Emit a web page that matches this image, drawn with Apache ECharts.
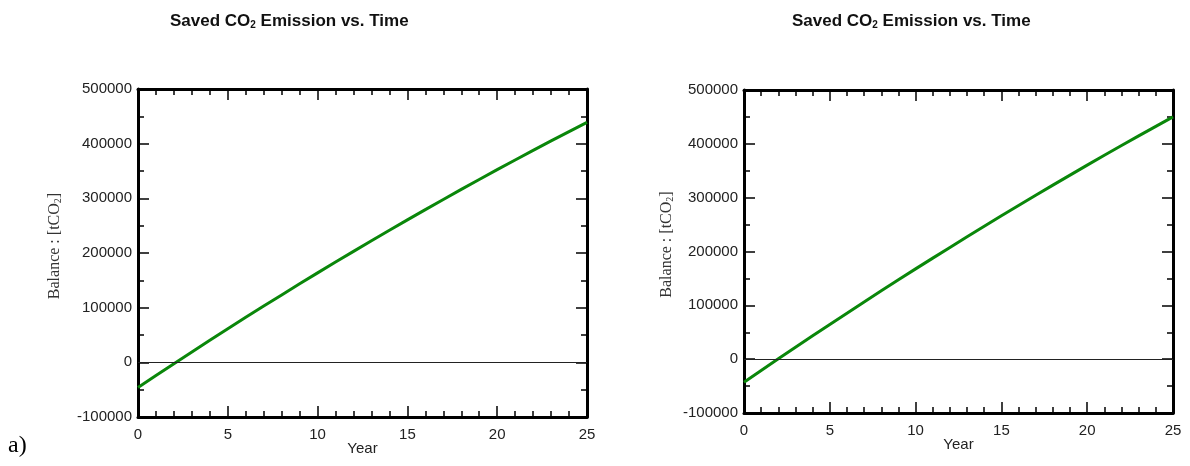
<!DOCTYPE html>
<html>
<head>
<meta charset="utf-8">
<script src="https://cdn.jsdelivr.net/npm/echarts@6/dist/echarts.min.js"></script>
<style>
  html, body { margin: 0; padding: 0; background: #fff; }
  #chart { width: 1190px; height: 466px; }
</style>
</head>
<body>
<div id="chart"></div>
<script>
// data
const years = [0, 1, 2, 3, 4, 5, 6, 7, 8, 9, 10, 11, 12, 13, 14, 15, 16, 17, 18, 19, 20, 21, 22, 23, 24, 25]
const balanceA = [-46000, -24100, -2400, 19100, 40300, 61400, 82300, 102900, 123300, 143600, 163600, 183400, 203000,
  222400, 241600, 260600, 279400, 297900, 316300, 334500, 352400, 370100, 387700, 405000, 422100, 439000]
const balanceB = [-43000, -21100, 600, 22100, 43400, 64600, 85500, 106300, 127000, 147400, 167700, 187700, 207600,
  227400, 246900, 266300, 285400, 304500, 323300, 341900, 360400, 378700, 396800, 414700, 432500, 450100]
const yearTicks = [0, 25, 5]          // min, max, step
const balanceTicks = [-100000, 500000, 100000]

const chart = echarts.init(document.getElementById('chart'))

const sans = 'Liberation Sans, Arial, sans-serif'
const serif = 'Liberation Serif, Times New Roman, serif'

function pairs (vals) {
  return years.map((y, i) => [y, vals[i]])
}

function xAx (gridIndex, pos) {
  return {
    type: 'value',
    gridIndex: gridIndex,
    position: pos,
    min: yearTicks[0],
    max: yearTicks[1],
    interval: yearTicks[2],
    name: pos === 'bottom' ? 'Year' : '',
    nameLocation: 'middle',
    nameGap: 24,
    nameMoveOverlap: false,
    nameTextStyle: { color: '#222', fontFamily: sans, fontSize: 15 },
    axisLine: { show: true, onZero: false, lineStyle: { color: '#000', width: 3 } },
    axisTick: { show: true, inside: true, length: 11, lineStyle: { color: '#000', width: 1.5 } },
    minorTick: { show: true, splitNumber: 5, length: 6, lineStyle: { color: '#000', width: 1.5 } },
    axisLabel: { show: pos === 'bottom', margin: 10, color: '#222', fontFamily: sans, fontSize: 15 },
    splitLine: { show: false }
  }
}

function yAx (gridIndex, pos) {
  return {
    type: 'value',
    gridIndex: gridIndex,
    position: pos,
    min: balanceTicks[0],
    max: balanceTicks[1],
    interval: balanceTicks[2],
    name: pos === 'left' ? 'Balance : [tCO{s|2}]' : '',
    nameLocation: 'middle',
    nameGap: gridIndex === 0 ? 75 : 69,
    nameTextStyle: {
      color: '#333',
      fontFamily: serif,
      fontSize: 16,
      padding: [0, 0, 0, 14],
      rich: { s: { fontFamily: serif, fontSize: 10, verticalAlign: 'bottom', color: '#333' } }
    },
    axisLine: { show: true, onZero: false, lineStyle: { color: '#000', width: 3 } },
    axisTick: { show: true, inside: true, length: 11, lineStyle: { color: '#000', width: 1.5 } },
    minorTick: { show: true, splitNumber: 2, length: 6, lineStyle: { color: '#000', width: 1.5 } },
    axisLabel: {
      show: pos === 'left',
      margin: 6,
      color: '#222',
      fontFamily: sans,
      fontSize: 15,
      formatter: v => String(v)
    },
    splitLine: { show: false }
  }
}

function line (idx, vals) {
  return {
    type: 'line',
    xAxisIndex: idx * 2,
    yAxisIndex: idx * 2,
    data: pairs(vals),
    showSymbol: false,
    lineStyle: { color: '#0a870a', width: 3 },
    z: 3,
    markLine: {
      silent: true,
      symbol: 'none',
      label: { show: false },
      lineStyle: { color: '#222', width: 1, type: 'solid' },
      data: [{ yAxis: 0 }]
    }
  }
}

function titleText (x) {
  return {
    type: 'text',
    left: x,
    top: 13,
    style: {
      text: 'Saved CO{s|2} Emission vs. Time',
      fontFamily: sans,
      fontWeight: 'bold',
      fontSize: 17,
      fill: '#111',
      rich: { s: { fontFamily: sans, fontWeight: 'bold', fontSize: 10, verticalAlign: 'bottom', fill: '#111' } }
    }
  }
}

const option = {
  animation: false,
  grid: [
    { left: 138, top: 89, width: 449, height: 328, show: false },
    { left: 744, top: 90, width: 429, height: 323, show: false }
  ],
  xAxis: [xAx(0, 'bottom'), xAx(0, 'top'), xAx(1, 'bottom'), xAx(1, 'top')],
  yAxis: [yAx(0, 'left'), yAx(0, 'right'), yAx(1, 'left'), yAx(1, 'right')],
  series: [line(0, balanceA), line(1, balanceB)],
  graphic: [
    titleText(170),
    titleText(792),
    {
      type: 'text',
      left: 8,
      top: 434,
      style: { text: 'a)', fontFamily: serif, fontSize: 24, fill: '#000' }
    }
  ]
}

chart.setOption(option)

window.addEventListener('resize', () => {
  chart.resize()
})
</script>
</body>
</html>
